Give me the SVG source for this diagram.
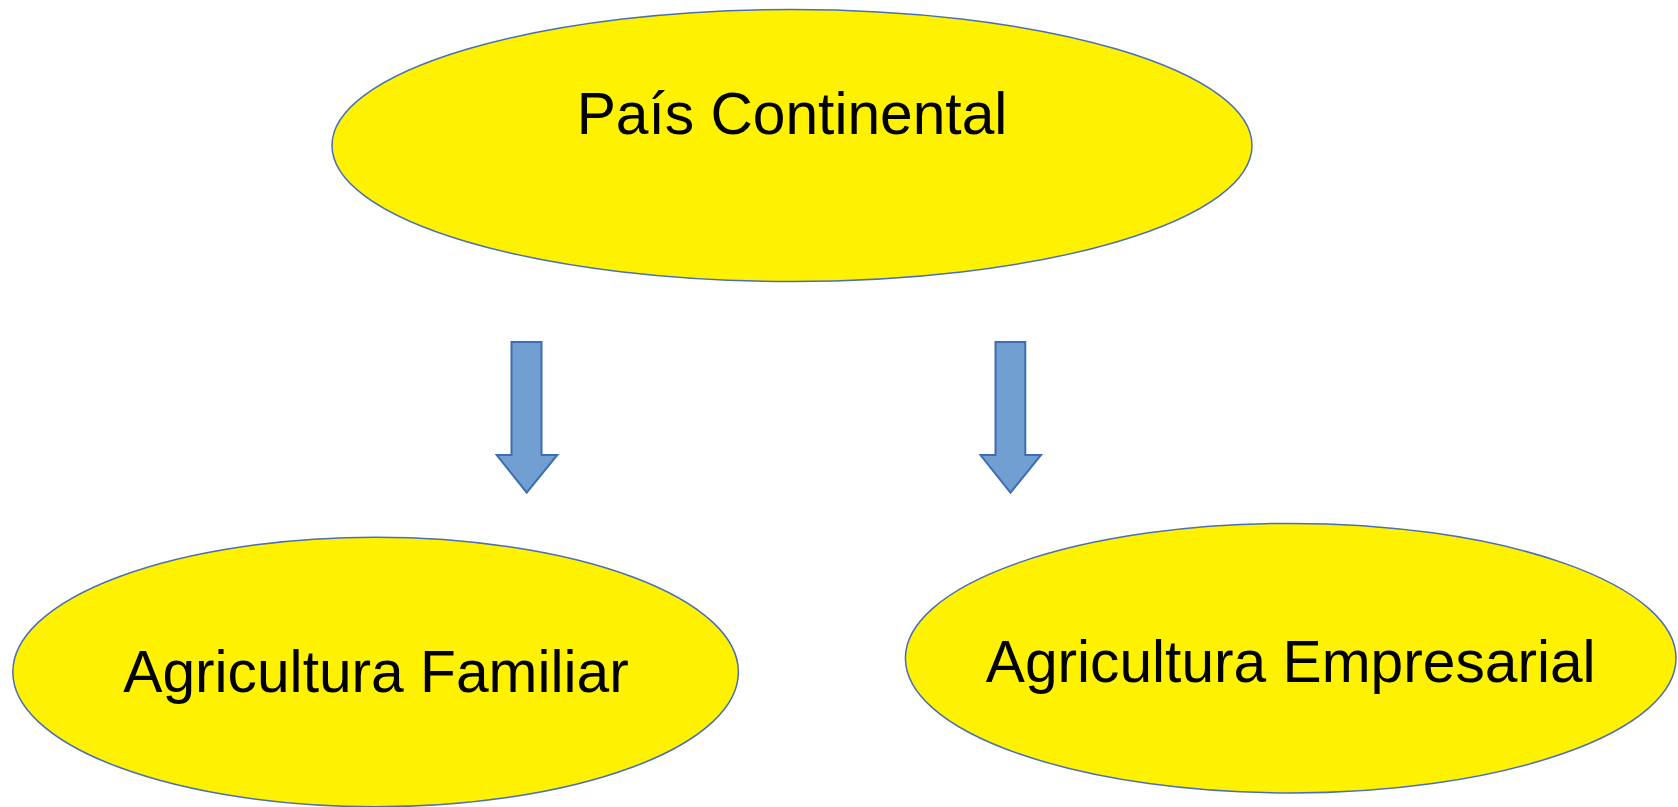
<svg xmlns="http://www.w3.org/2000/svg" width="1678" height="807" viewBox="0 0 1678 807">
<style>
.node ellipse{fill:#FFF200;stroke:#4A6FB5;stroke-width:1.5}
.node text{font-family:"Liberation Sans",Arial,sans-serif;font-size:58.7px;fill:#000;text-anchor:middle}
.arrow{fill:#729FD1;stroke:#3E6DB3;stroke-width:2}
</style>
<rect width="1678" height="807" fill="#fff"/>
<g id="n1" class="node">
<ellipse cx="792" cy="145.5" rx="460" ry="136"/>
<text x="792" y="134">País Continental</text>
</g>
<g id="n2" class="node">
<ellipse cx="375.6" cy="672" rx="362.8" ry="134.8"/>
<text x="376" y="692">Agricultura Familiar</text>
</g>
<g id="n3" class="node">
<ellipse cx="1290.7" cy="658.2" rx="385.3" ry="134.8"/>
<text x="1290.7" y="682">Agricultura Empresarial</text>
</g>
<g id="connectors">
<path class="arrow" d="M511.5 342 H541.5 V455 H557.3 L526.7 492.7 L496.7 455 H511.5 Z"/>
<path class="arrow" d="M995.5 342 H1025.3 V455 H1041 L1010.5 492.7 L980.5 455 H995.5 Z"/>
</g>
</svg>
